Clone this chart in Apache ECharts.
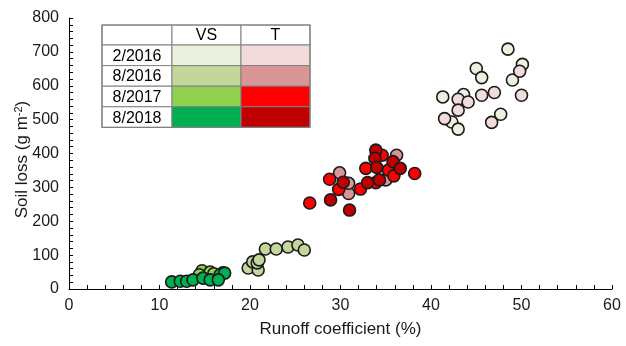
<!DOCTYPE html>
<html>
<head>
<meta charset="utf-8">
<script src="https://cdn.jsdelivr.net/npm/echarts@6/dist/echarts.min.js"></script>
<style>
  html, body { margin: 0; padding: 0; background: #fff; }
  #chart { width: 626px; height: 346px; }
</style>
</head>
<body>
<div id="chart"></div>
<script>
// Sampling dates (rows of the key table) and treatments (columns)
const dates = ['2/2016', '8/2016', '8/2017', '8/2018'];
const treatments = ['VS', 'T'];

// Fill colours per treatment, one per sampling date
const vsColors = ['#EBF1DE', '#C3D69B', '#92D050', '#00B050'];
const tColors = ['#F2DCDB', '#D99694', '#FF0000', '#C00000'];

// [runoff coefficient (%), soil loss (g m-2)]
const vs_2016_02 = [[48.5, 708], [50.1, 663], [49.0, 617], [45.0, 651], [45.6, 624], [41.3, 567], [43.6, 574], [42.3, 493], [43.0, 472], [47.7, 516]];
const t_2016_02 = [[49.8, 643], [43.0, 560], [44.1, 552], [45.6, 572], [47.0, 580], [50.0, 572], [43.0, 528], [41.5, 503], [46.7, 492]];
const vs_2016_08 = [[19.8, 62], [20.9, 56], [20.3, 80], [20.8, 77], [21.0, 86], [21.7, 118], [22.9, 118], [24.2, 124], [25.3, 130], [26.0, 115]];
const t_2016_08 = [[29.9, 343], [30.7, 312], [30.9, 282], [35.0, 322], [36.2, 395], [30.9, 312]];
const vs_2017_08 = [[14.7, 54], [15.6, 50], [16.0, 45], [14.4, 42], [17.0, 48]];
const t_2017_08 = [[26.6, 254], [28.8, 324], [29.8, 294], [32.2, 295], [32.8, 356], [34.6, 395], [33.9, 314], [35.3, 351], [35.9, 334], [38.2, 341]];
const vs_2018_08 = [[11.35, 21], [12.3, 23], [13.0, 23], [13.7, 27], [14.8, 32], [15.6, 27], [16.7, 42], [17.2, 47], [16.5, 27]];
const t_2018_08 = [[28.9, 263], [31.0, 233], [30.3, 315], [33.0, 314], [33.9, 410], [33.8, 386], [34.0, 359], [34.3, 322], [35.8, 376], [36.6, 356]];

// Axis settings
const xMin = 0, xMax = 60, xStep = 10;
const yMin = 0, yMax = 800, yStep = 100;

const seriesData = [
  { name: 'VS 2/2016', data: vs_2016_02, color: vsColors[0] },
  { name: 'T 2/2016', data: t_2016_02, color: tColors[0] },
  { name: 'VS 8/2016', data: vs_2016_08, color: vsColors[1] },
  { name: 'T 8/2016', data: t_2016_08, color: tColors[1] },
  { name: 'VS 8/2017', data: vs_2017_08, color: vsColors[2] },
  { name: 'T 8/2017', data: t_2017_08, color: tColors[2] },
  { name: 'VS 8/2018', data: vs_2018_08, color: vsColors[3] },
  { name: 'T 8/2018', data: t_2018_08, color: tColors[3] }
];

const FONT = 'Liberation Sans, Arial, sans-serif';
const TXT = '#1a1a1a';
const chart = echarts.init(document.getElementById('chart'), null, { renderer: 'canvas' });

// Key table drawn as graphic rectangles and text
const tbl = { left: 102, top: 25, labelW: 70, colW: 69, headH: 20, rowH: 20.6 };
const graphics = [];
const tblW = tbl.labelW + tbl.colW * 2;
const tblH = tbl.headH + tbl.rowH * dates.length;
graphics.push({ type: 'rect', shape: { x: tbl.left, y: tbl.top, width: tbl.labelW, height: tbl.headH }, style: { fill: '#fff', stroke: '#808080', lineWidth: 1 } });
treatments.forEach((t, j) => {
  const x = tbl.left + tbl.labelW + j * tbl.colW;
  graphics.push({ type: 'rect', shape: { x: x, y: tbl.top, width: tbl.colW, height: tbl.headH }, style: { fill: '#fff', stroke: '#808080', lineWidth: 1 } });
  graphics.push({ type: 'text', x: x + tbl.colW / 2, y: tbl.top + tbl.headH / 2 + 1, style: { text: t, fill: '#000', font: '16px ' + FONT, align: 'center', verticalAlign: 'middle' } });
});
dates.forEach((d, i) => {
  const y = tbl.top + tbl.headH + i * tbl.rowH;
  graphics.push({ type: 'rect', shape: { x: tbl.left, y: y, width: tbl.labelW, height: tbl.rowH }, style: { fill: '#fff', stroke: '#808080', lineWidth: 1 } });
  graphics.push({ type: 'text', x: tbl.left + tbl.labelW / 2, y: y + tbl.rowH / 2 + 1, style: { text: d, fill: '#000', font: '16px ' + FONT, align: 'center', verticalAlign: 'middle' } });
  [vsColors[i], tColors[i]].forEach((c, j) => {
    const x = tbl.left + tbl.labelW + j * tbl.colW;
    graphics.push({ type: 'rect', shape: { x: x, y: y, width: tbl.colW, height: tbl.rowH }, style: { fill: c, stroke: '#808080', lineWidth: 1 } });
  });
});
graphics.push({ type: 'rect', shape: { x: tbl.left, y: tbl.top, width: tblW, height: tblH }, style: { fill: 'none', stroke: '#808080', lineWidth: 1.2 } });

chart.setOption({
  animation: false,
  backgroundColor: '#fff',
  grid: { left: 69, right: 14, top: 18, bottom: 57, containLabel: false, outerBoundsMode: 'none' },
  xAxis: {
    type: 'value', min: xMin, max: xMax, interval: xStep,
    name: 'Runoff coefficient (%)', nameLocation: 'middle', nameGap: 32, nameMoveOverlap: false,
    nameTextStyle: { fontFamily: FONT, fontSize: 17, color: TXT },
    axisLine: { show: true, lineStyle: { color: '#000', width: 1 } },
    axisTick: { show: true, inside: true, length: 4, lineStyle: { color: '#000' } },
    minorTick: { show: true, splitNumber: 5, length: 4, lineStyle: { color: '#000' } },
    axisLabel: { fontFamily: FONT, fontSize: 16, color: TXT, margin: 9 },
    splitLine: { show: false }
  },
  yAxis: {
    type: 'value', min: yMin, max: yMax, interval: yStep,
    name: '{a|Soil loss (g m}{s|-2}{a|)}', nameLocation: 'middle', nameGap: 38, nameRotate: 90, nameMoveOverlap: false,
    nameTextStyle: {
      padding: [0, 12, 0, 0],
      rich: {
        a: { fontFamily: FONT, fontSize: 17, color: TXT },
        s: { fontFamily: FONT, fontSize: 11, color: TXT, verticalAlign: 'top', padding: [0, 0, 7, 0] }
      }
    },
    axisLine: { show: true, lineStyle: { color: '#000', width: 1 } },
    axisTick: { show: true, inside: true, length: 4, lineStyle: { color: '#000' } },
    minorTick: { show: true, splitNumber: 5, length: 4, lineStyle: { color: '#000' } },
    axisLabel: { fontFamily: FONT, fontSize: 16, color: TXT, margin: 10 },
    splitLine: { show: false }
  },
  graphic: graphics,
  series: seriesData.map(s => ({
    name: s.name,
    type: 'scatter',
    data: s.data,
    symbol: 'circle',
    symbolSize: 12,
    itemStyle: { color: s.color, borderColor: '#1a1a1a', borderWidth: 1.6, opacity: 1 }
  }))
});
</script>
</body>
</html>
